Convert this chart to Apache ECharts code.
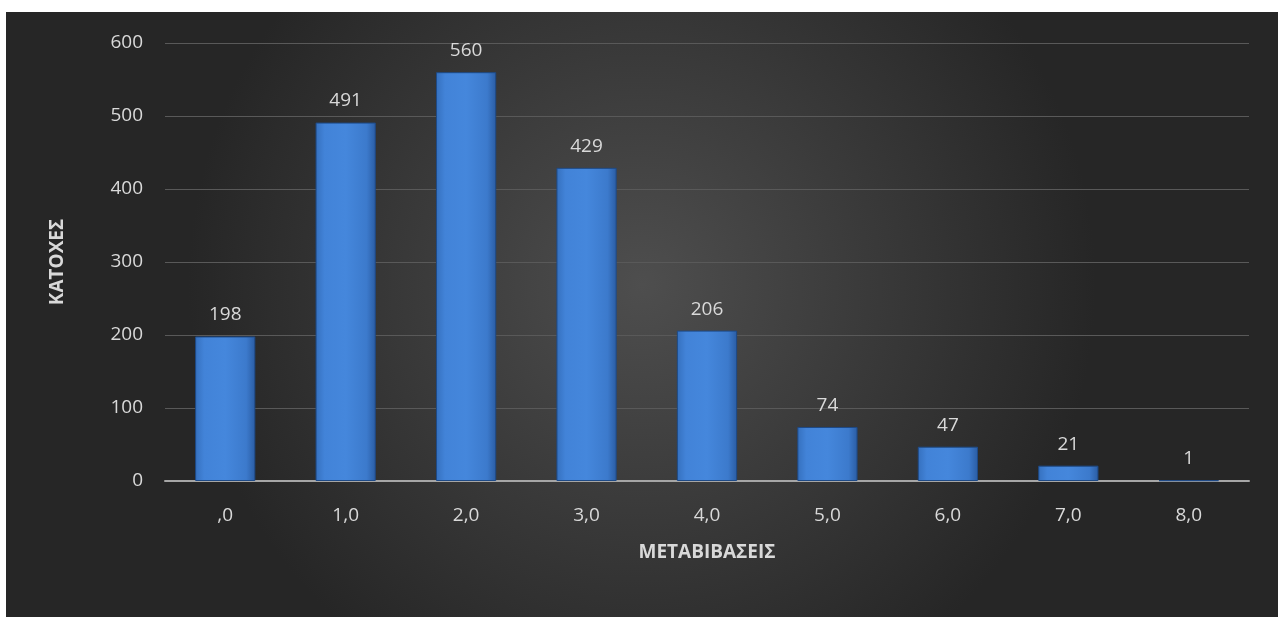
<!DOCTYPE html>
<html>
<head>
<meta charset="utf-8">
<script src="https://cdn.jsdelivr.net/npm/echarts@6/dist/echarts.min.js"></script>
<style>
  html, body { margin: 0; padding: 0; background: #fff; }
  .transfers {
    position: absolute;
    left: 6px;
    top: 12px;
    width: 1272px;
    height: 605px;
  }
</style>
</head>
<body>
<div class="transfers" id="transfers"></div>
<script>
// κατηγορίες (μεταβιβάσεις) και τιμές (κάτοχοι)
const categories = [",0", "1,0", "2,0", "3,0", "4,0", "5,0", "6,0", "7,0", "8,0"];
const holders = [198, 491, 560, 429, 206, 74, 47, 21, 1];
const yTicks = [0, 100, 200, 300, 400, 500, 600];

const textColor = "#d9d9d9";
const fontName = "'Open Sans', 'DejaVu Sans', sans-serif";

const chart = echarts.init(document.getElementById("transfers"));

const option = {
  backgroundColor: new echarts.graphic.RadialGradient(0.5, 0.45, 0.75, [
    { offset: 0, color: "#4e4e4e" },
    { offset: 1, color: "#262626" },
  ]),
  textStyle: { fontFamily: fontName },
  grid: {
    left: 159,
    right: 29,
    top: 31,
    bottom: 136,
  },
  xAxis: {
    type: "category",
    data: categories,
    name: "ΜΕΤΑΒΙΒΑΣΕΙΣ",
    nameLocation: "middle",
    nameGap: 62,
    nameTextStyle: { color: textColor, fontSize: 19, fontWeight: "bold" },
    axisLine: { lineStyle: { color: "#a6a6a6", width: 2 } },
    axisTick: { show: false },
    axisLabel: { color: textColor, fontSize: 19, margin: 25 },
  },
  yAxis: {
    type: "value",
    min: yTicks[0],
    max: yTicks[yTicks.length - 1],
    interval: 100,
    name: "ΚΑΤΟΧΕΣ",
    nameLocation: "middle",
    nameGap: 98,
    nameTextStyle: { color: textColor, fontSize: 19, fontWeight: "bold" },
    axisLine: { show: false },
    axisTick: { show: false },
    axisLabel: { color: textColor, fontSize: 19, margin: 22 },
    splitLine: { lineStyle: { color: "#595959", width: 1 } },
  },
  series: [
    {
      type: "bar",
      data: holders,
      barWidth: "50%",
      itemStyle: {
        color: new echarts.graphic.LinearGradient(0, 0, 1, 0, [
          { offset: 0, color: "#3570be" },
          { offset: 0.15, color: "#4283d8" },
          { offset: 0.5, color: "#4587dc" },
          { offset: 0.85, color: "#3c7acc" },
          { offset: 1, color: "#2a5ca3" },
        ]),
        borderColor: "#1e4a86",
        borderWidth: 1,
      },
      label: {
        show: true,
        position: "top",
        distance: 12,
        color: textColor,
        fontSize: 19,
      },
    },
  ],
};

chart.setOption(option);

window.addEventListener("resize", () => {
  chart.resize();
});
</script>
</body>
</html>
